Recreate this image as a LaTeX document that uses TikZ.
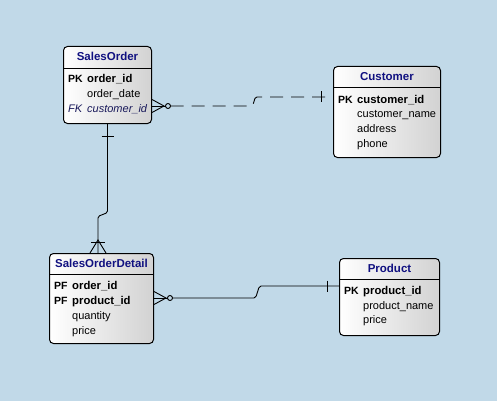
\documentclass[tikz,border=0pt]{standalone}
\usepackage{fontspec}
\setmainfont{Liberation Sans}
\usetikzlibrary{calc}
\definecolor{bgblue}{RGB}{193,217,232}
\definecolor{boxgrey}{RGB}{210,210,210}
\definecolor{titleblue}{RGB}{16,16,128}
\definecolor{fkblue}{RGB}{24,24,90}

\begin{document}
\begin{tikzpicture}[x=1pt, y=-1pt,
  entity/.style={draw, rounded corners=4pt, left color=white, right color=boxgrey, line width=1pt, anchor=north west, inner sep=0pt},
  etitle/.style={anchor=base, inner sep=0pt, font=\fontsize{11.5}{13}\selectfont\bfseries, text=titleblue},
  keytag/.style={anchor=base west, inner sep=0pt, font=\fontsize{10.5}{13}\selectfont\bfseries},
  keycol/.style={anchor=base west, inner sep=0pt, font=\fontsize{11.3}{13}\selectfont\bfseries},
  attr/.style={anchor=base west, inner sep=0pt, font=\fontsize{11}{13}\selectfont},
  fkattr/.style={anchor=base west, inner sep=0pt, font=\fontsize{11}{13}\selectfont\itshape, text=fkblue},
  rel/.style={line width=0.9pt}
  ]

% background
\fill[bgblue] (0,0) rectangle (497,401);
\useasboundingbox (0,0) rectangle (497,401);

% sales order
\node[entity, minimum width=88pt, minimum height=77pt] at (63,46) (so) {};
\node[etitle] at (so.north |- 0,61) (sotitle) {SalesOrder};
\draw[line width=1pt] (so.west |- 0,69) -- (so.east |- 0,69);
\node[keytag] at (68,82.5) (sopk) {PK};
\node[keycol] at (87,82.5) (soid) {order\_id};
\node[attr] at (87,97.5) (sodate) {order\_date};
\node[fkattr] at (68,112.5) (sofk) {FK};
\node[fkattr] at (87,112.5) (socust) {customer\_id};

% customer
\node[entity, minimum width=107pt, minimum height=91pt] at (333,66) (cust) {};
\node[etitle] at (cust.north |- 0,81) (custtitle) {Customer};
\draw[line width=1pt] (cust.west |- 0,88) -- (cust.east |- 0,88);
\node[keytag] at (338,103) (custpk) {PK};
\node[keycol] at (357,103) (custid) {customer\_id};
\node[attr] at (357,117.7) (custname) {customer\_name};
\node[attr] at (357,132.4) (custaddr) {address};
\node[attr] at (357,147.1) (custphone) {phone};

% sales order detail
\node[entity, minimum width=104pt, minimum height=90pt] at (49,253) (sod) {};
\node[etitle] at (sod.north |- 0,267) (sodtitle) {SalesOrderDetail};
\draw[line width=1pt] (sod.west |- 0,274) -- (sod.east |- 0,274);
\node[keytag] at (54,289.5) (sodpf1) {PF};
\node[keycol] at (72,289.5) (sodorder) {order\_id};
\node[keytag] at (54,304.5) (sodpf2) {PF};
\node[keycol] at (72,304.5) (sodprod) {product\_id};
\node[attr] at (72,319.5) (sodqty) {quantity};
\node[attr] at (72,334) (sodprice) {price};

% product
\node[entity, minimum width=100pt, minimum height=77pt] at (339,258) (prod) {};
\node[etitle] at (prod.north |- 0,272) (prodtitle) {Product};
\draw[line width=1pt] (prod.west |- 0,279) -- (prod.east |- 0,279);
\node[keytag] at (344,294) (prodpk) {PK};
\node[keycol] at (363,294) (prodid) {product\_id};
\node[attr] at (363,309) (prodname) {product\_name};
\node[attr] at (363,323.5) (prodprice) {price};

% sales order -- customer (dashed)
\coordinate (c1a) at (so.east |- 0,106);
\coordinate (c1b) at (cust.west |- 0,97);
\draw[rel] ($(c1a)+(0,-6.5)$) -- ($(c1a)+(12,0)$) -- ($(c1a)+(0,6.5)$);
\draw[rel] (c1a) -- ++(13.5,0);
\draw[rel] ($(c1a)+(16,0)$) circle (2.5);
\draw[rel, dash pattern=on 13pt off 8pt] ($(c1a)+(18.5,0)$) -- ($(c1a)+(99,0)$)
  .. controls +(4,0) and +(-4,0) .. ($(c1b)+(-76,0)$) -- (c1b);
\draw[rel] ($(c1b)+(-12,-5.5)$) -- ++(0,11);

% sales order -- sales order detail
\coordinate (c2b) at (sod.north -| 98,0);
\draw[rel] (so.south) -- ++(0,87) .. controls +(0,4) and +(0,-4) .. ($(c2b)+(0,-35)$) -- (c2b);
\draw[rel] ($(so.south)+(-6,12)$) -- ++(12,0);
\draw[rel] ($(c2b)+(-7,-11)$) -- ++(14,0);
\draw[rel] ($(c2b)+(-8,0)$) -- ($(c2b)+(0,-13)$) -- ($(c2b)+(8,0)$);

% sales order detail -- product
\coordinate (c3a) at (sod.east |- 0,298);
\coordinate (c3b) at (prod.west |- 0,286);
\draw[rel] ($(c3a)+(0,-6.5)$) -- ($(c3a)+(12,0)$) -- ($(c3a)+(0,6.5)$);
\draw[rel] (c3a) -- ++(13.5,0);
\draw[rel] ($(c3a)+(16,0)$) circle (2.5);
\draw[rel] ($(c3a)+(18.5,0)$) -- ($(c3a)+(100,0)$)
  .. controls +(4,0) and +(-4,0) .. ($(c3b)+(-78,0)$) -- (c3b);
\draw[rel] ($(c3b)+(-12,-5.5)$) -- ++(0,11);

\end{tikzpicture}
\end{document}
